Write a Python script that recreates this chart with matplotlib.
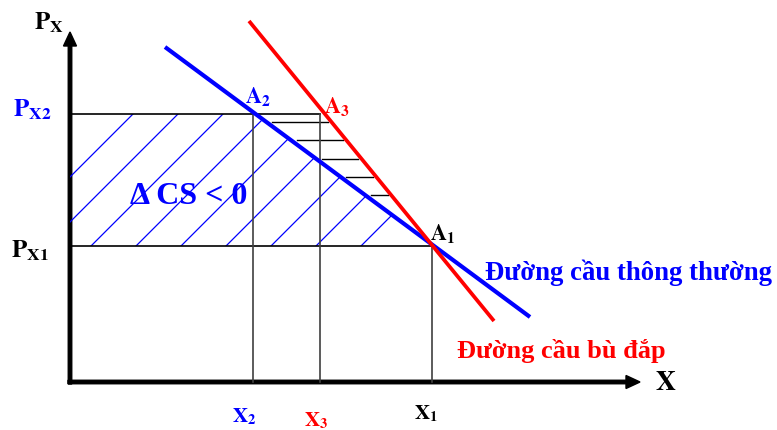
import numpy as np
import matplotlib.pyplot as plt
from matplotlib.patches import Polygon

plt.rcParams['mathtext.fontset'] = 'stix'
SERIF = 'Liberation Serif'

BLUE = '#0000ff'
RED = '#ff0000'
GRID = '#404040'

# price levels and quantities (chart units, origin at the axes corner)
px1, px2 = 136, 268
x2, x3, x1 = 183, 250, 362

# demand curves, end points
normal_x = [95, 460]
normal_y = [335, 65]
comp_x = [179, 424]
comp_y = [361, 61]

fig = plt.figure(figsize=(7.77, 4.31), dpi=100)
ax = fig.add_axes([0, 0, 1, 1])
ax.set_xlim(-70, 707)
ax.set_ylim(-48, 383)
ax.axis('off')

# hatched area = loss of consumer surplus
cs_area = Polygon([(0, px1), (0, px2), (x2, px2), (x1, px1)], closed=True,
                  facecolor='none', edgecolor='none')
ax.add_patch(cs_area)
for k in np.arange(-205, 160, 45):
    ln, = ax.plot([px1 + k, px2 + k], [px1, px2], color=BLUE, lw=0.9)
    ln.set_clip_path(cs_area)

# short black lines between the two demand curves
def x_on(xs, ys, y):
    return np.interp(y, ys[::-1], xs[::-1])

for y in np.linspace(260, 187, 5):
    xl = x_on(normal_x, normal_y, y) + 6
    xr = x_on(comp_x, comp_y, y) - 3
    ax.plot([xl, xr], [y, y], color='black', lw=1.0)

# guide lines
ax.plot([0, x3], [px2, px2], color='black', lw=1.2)
ax.plot([0, x1], [px1, px1], color='black', lw=1.2)
for xv, yv in [(x2, px2), (x3, px2), (x1, px1)]:
    ax.plot([xv, xv], [0, yv], color=GRID, lw=1.2)

# demand curves
ax.plot(normal_x, normal_y, color=BLUE, lw=3.0, solid_capstyle='butt')
ax.plot(comp_x, comp_y, color=RED, lw=2.7, solid_capstyle='butt')

# axes with arrows
ax.arrow(0, -2, 0, 352, width=3.5, head_width=13, head_length=14,
         length_includes_head=True, color='black')
ax.arrow(-2, 0, 572, 0, width=3.5, head_width=13, head_length=14,
         length_includes_head=True, color='black')

def lab(x, y, s, color='black', size=16):
    ax.text(x, y, s, color=color, fontsize=size, ha='center', va='center')

lab(-21, 360, r'$\mathbf{P}_{\mathbf{X}}$', 'black', 18)
lab(-38, 273, r'$\mathbf{P}_{\mathbf{X2}}$', BLUE, 18)
lab(-40, 132, r'$\mathbf{P}_{\mathbf{X1}}$', 'black', 18)
lab(x2 - 9, -34, r'$\mathbf{X}_{\mathbf{2}}$', BLUE, 15)
lab(x3 - 4, -38, r'$\mathbf{X}_{\mathbf{3}}$', RED, 15)
lab(x1 - 6, -31, r'$\mathbf{X}_{\mathbf{1}}$', 'black', 15)
lab(596, 1, r'$\mathbf{X}$', 'black', 20)
lab(x2 + 5, 286, r'$\mathbf{A}_{\mathbf{2}}$', BLUE)
lab(x3 + 17, 277, r'$\mathbf{A}_{\mathbf{3}}$', RED)
lab(x1 + 11, 149, r'$\mathbf{A}_{\mathbf{1}}$')

ax.text(119, 186, 'Δ CS < 0', color=BLUE, fontsize=23, fontweight='bold',
        family=SERIF, ha='center', va='center')
ax.text(415, 103, 'Đường cầu thông thường', color=BLUE, fontsize=19.3,
        fontweight='bold', family=SERIF, ha='left', va='baseline')
ax.text(387, 25, 'Đường cầu bù đắp', color=RED, fontsize=19,
        fontweight='bold', family=SERIF, ha='left', va='baseline')

fig.savefig('out.png', dpi=100)
